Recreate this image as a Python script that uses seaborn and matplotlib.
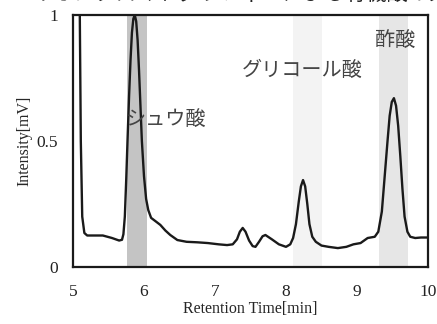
import numpy as np
import matplotlib
matplotlib.use("Agg")
import matplotlib.pyplot as plt
import seaborn as sns
import pandas as pd

# chromatogram (retention time [min], intensity [mV])
rt = [5.07, 5.09, 5.11, 5.13, 5.16, 5.2, 5.3, 5.42, 5.55, 5.65, 5.69, 5.71,
      5.73, 5.75, 5.77, 5.79, 5.81, 5.83, 5.85, 5.87, 5.89, 5.91, 5.93, 5.95,
      5.97, 6.0, 6.03, 6.06, 6.1, 6.17, 6.23, 6.3, 6.37, 6.47, 6.6, 6.75, 6.9,
      7.05, 7.17, 7.25, 7.31, 7.35, 7.39, 7.43, 7.48, 7.53, 7.57, 7.62, 7.67,
      7.71, 7.8, 7.9, 8.0, 8.06, 8.1, 8.14, 8.18, 8.21, 8.24, 8.27, 8.3, 8.33,
      8.37, 8.42, 8.5, 8.6, 8.73, 8.85, 8.95, 9.05, 9.15, 9.25, 9.3, 9.35, 9.39,
      9.43, 9.46, 9.49, 9.52, 9.55, 9.58, 9.61, 9.64, 9.67, 9.71, 9.75, 9.82,
      9.9, 10.0]
intensity = [2.0, 1.2, 0.5, 0.2, 0.135, 0.125, 0.125, 0.125, 0.115, 0.105, 0.108,
             0.13, 0.2, 0.35, 0.52, 0.68, 0.82, 0.93, 0.985, 1.0, 0.975, 0.9,
             0.78, 0.64, 0.5, 0.36, 0.27, 0.226, 0.195, 0.18, 0.167, 0.145,
             0.127, 0.107, 0.1, 0.098, 0.095, 0.09, 0.087, 0.09, 0.11, 0.14,
             0.155, 0.14, 0.105, 0.083, 0.08, 0.1, 0.122, 0.127, 0.11, 0.09,
             0.08, 0.09, 0.115, 0.17, 0.26, 0.32, 0.345, 0.32, 0.25, 0.17, 0.12,
             0.1, 0.085, 0.08, 0.075, 0.08, 0.09, 0.095, 0.115, 0.12, 0.14, 0.22,
             0.36, 0.5, 0.6, 0.655, 0.67, 0.64, 0.56, 0.44, 0.31, 0.2, 0.14,
             0.12, 0.115, 0.117, 0.117]

x_ticks = [5, 6, 7, 8, 9, 10]
y_ticks = [0, 0.5, 1]
y_labels = ["0", "0.5", "1"]

# shaded retention windows: (start, end, colour)
bands = [(5.76, 6.04, "#c4c4c4"), (8.1, 8.5, "#f3f3f3"), (9.31, 9.72, "#e6e6e6")]
peak_names = ["シュウ酸", "グリコール酸", "酢酸"]
label_pos = [(5.75, 0.58, "left"), (7.38, 0.78, "left"), (9.53, 0.895, "center")]

df = pd.DataFrame({"rt": rt, "intensity": intensity})

sns.set_style("white")
plt.rcParams["font.family"] = ["Liberation Serif", "Noto Sans CJK JP"]

fig = plt.figure(figsize=(4.37, 3.24), dpi=100)
ax = fig.add_axes([73 / 437, 1 - 267 / 324, 355 / 437, 252 / 324])

for x0, x1, c in bands:
    ax.axvspan(x0, x1, color=c, lw=0, zorder=0)

sns.lineplot(data=df, x="rt", y="intensity", color="#1a1a1a", lw=1.7, ax=ax)

for name, (tx, ty, ha) in zip(peak_names, label_pos):
    ax.text(tx, ty, name, ha=ha, va="center", fontsize=14.5, color="#444444",
            family=["Noto Sans CJK JP"])

ax.set_xlim(5, 10)
ax.set_ylim(0, 1)
ax.set_xticks(x_ticks)
ax.set_xticklabels([str(t) for t in x_ticks], fontsize=12.5)
ax.set_yticks(y_ticks)
ax.set_yticklabels(y_labels, fontsize=12.5)
ax.tick_params(axis="x", direction="in", length=3, width=1, pad=12, colors="#222")
ax.tick_params(axis="y", length=0, pad=11, colors="#222")
ax.set_xlabel("Retention Time[min]", fontsize=11.5, labelpad=1)
ax.set_ylabel("Intensity[mV]", fontsize=11.5, labelpad=3)
for s in ax.spines.values():
    s.set_visible(True)
    s.set_color("#1a1a1a")
    s.set_linewidth(1.6)

# caption line of the source page, cut off at the top edge
fig.text(0.6, 1.02, "ーイオンクロマトグラフィーによる有機酸の分析結果", ha="center",
         va="center", fontsize=15, color="#222", family=["Noto Sans CJK JP"])

fig.savefig("out.png", dpi=100)
